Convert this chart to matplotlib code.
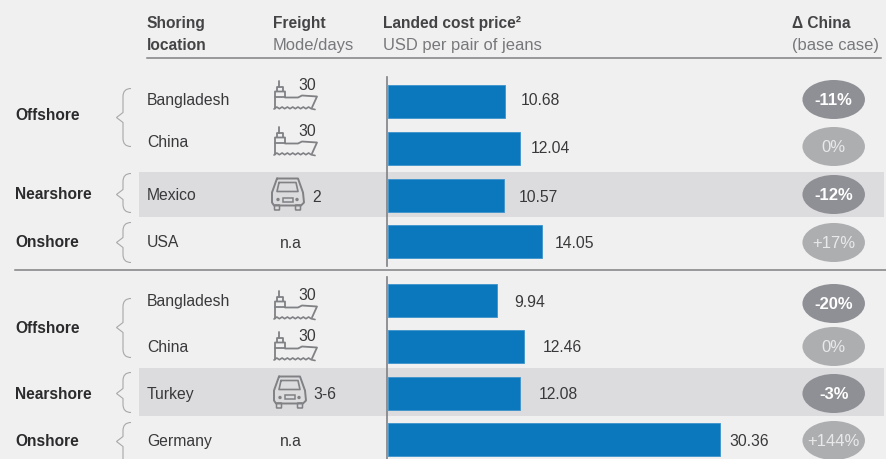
import matplotlib
matplotlib.use("Agg")
import matplotlib.pyplot as plt
from matplotlib.patches import Ellipse, PathPatch, Rectangle, FancyBboxPatch
from matplotlib.path import Path

plt.rcParams['font.family'] = ['Liberation Sans', 'DejaVu Sans']

# values
locations = ["Bangladesh", "China", "Mexico", "USA", "Bangladesh", "China", "Turkey", "Germany"]
cost = [10.68, 12.04, 10.57, 14.05, 9.94, 12.46, 12.08, 30.36]
delta = ["-11%", "0%", "-12%", "+17%", "-20%", "0%", "-3%", "+144%"]
delta_dark = [True, False, True, False, True, False, True, False]
freight_mode = ["ship", "ship", "truck", None, "ship", "ship", "truck", None]
freight_days = ["30", "30", "2", "n.a", "30", "30", "3-6", "n.a"]
groups = ["Offshore", "Nearshore", "Onshore", "Offshore", "Nearshore", "Onshore"]

# layout, in pixels of the 886x460 picture
bar_top = [85, 132, 179, 226, 285, 331, 378, 424]
loc_y = [100, 142, 195, 242, 301, 347, 394, 441]
val_x = [521, 531, 519, 555, 514, 543, 539, 729]
val_y = [100, 148, 197, 243, 302, 347, 394, 441]
pill_y = [100, 147, 195, 243, 304, 347, 394, 441]
icon_y = [82, 128, 179, 0, 292, 333, 377, 0]
icon_x = [274, 274, 272, 0, 274, 274, 274, 0]
days_x = [298, 298, 312, 280, 298, 298, 313, 280]
days_y = [85, 131, 197, 243, 295, 336, 394, 441]
group_y = [115, 194, 242, 328, 394, 441]
brace_spans = [(89, 118, 147), (174, 195, 213), (223, 243, 263),
               (299, 328, 358), (373, 394, 413), (423, 442, 470)]

BG = "#f0f0f1"
BAND = "#dcdcde"
BLUE = "#0b77bd"
DARK = "#39393b"
GREY = "#77787b"
LINE = "#808184"
ICON = "#808184"

fig = plt.figure(figsize=(8.86, 4.6), dpi=100, facecolor=BG)
ax = fig.add_axes([0, 0, 1, 1])
ax.set_xlim(0, 886)
ax.set_ylim(459.5, -0.5)
ax.axis("off")


def icon_line(x, y, pts, lw=1.3):
    xs, ys = zip(*[(x + a, y + b) for a, b in pts])
    ax.plot(xs, ys, color=ICON, lw=lw, solid_joinstyle="round", solid_capstyle="round", zorder=3)


def draw_ship(x, y):
    icon_line(x, y, [(5, 0), (5, 6)])
    icon_line(x, y, [(3, 10), (3, 6), (9, 6), (9, 10)])
    icon_line(x, y, [(1, 27), (1, 10), (11, 10), (11, 16), (24, 16), (28, 14), (43, 15), (38, 26)])
    icon_line(x, y, [(1, 16), (11, 16)])
    # waves
    wave = [(0, 27.5)]
    for i in range(7):
        wave += [(2.8 + i * 5.3, 25.5), (5.4 + i * 5.3, 27.2)]
    wave += [(41, 28)]
    icon_line(x, y, wave, lw=1.2)


def draw_truck(x, y):
    icon_line(x, y, [(5, 0), (26, 0), (31, 14), (32, 24), (29, 27), (2, 27), (0, 24), (0, 14), (5, 0)], lw=1.4)
    # windscreen
    icon_line(x, y, [(7, 4), (24, 4), (26, 13), (5, 13), (7, 4)], lw=1.2)
    # plate, lights, wheels
    ax.add_patch(Rectangle((x + 11, y + 19), 10, 4, fill=False, ec=ICON, lw=1.1, zorder=3))
    ax.add_patch(Ellipse((x + 6, y + 21), 3.4, 3.4, fc=ICON, ec="none", zorder=3))
    ax.add_patch(Ellipse((x + 25, y + 21), 3.4, 3.4, fc=ICON, ec="none", zorder=3))
    ax.add_patch(FancyBboxPatch((x + 3, y + 27), 4, 4, boxstyle="round,pad=0.5", fill=False, ec=ICON, lw=1.1, zorder=3))
    ax.add_patch(FancyBboxPatch((x + 24, y + 27), 4, 4, boxstyle="round,pad=0.5", fill=False, ec=ICON, lw=1.1, zorder=3))


def draw_brace(top, tip, bottom):
    xe, xs, xt = 131, 123, 116.5
    verts = [(xe, top), (xs, top), (xs, top + 8), (xs, tip - 5), (xs, tip - 5), (xt, tip),
             (xs, tip + 5), (xs, tip + 5), (xs, bottom - 8), (xs, bottom), (xe, bottom)]
    codes = [Path.MOVETO, Path.CURVE3, Path.CURVE3, Path.LINETO, Path.LINETO, Path.LINETO,
             Path.LINETO, Path.LINETO, Path.LINETO, Path.CURVE3, Path.CURVE3]
    ax.add_patch(PathPatch(Path(verts, codes), fill=False, ec="#a7a8aa", lw=0.8, zorder=3))


# shaded rows
ax.add_patch(Rectangle((139, 172), 745, 45, fc=BAND, ec="none", zorder=0))
ax.add_patch(Rectangle((139, 369), 745, 48, fc=BAND, ec="none", zorder=0))

# rules
ax.plot([147, 881], [59, 59], color=LINE, lw=1.1, zorder=1)
ax.plot([15, 886], [271, 271], color=LINE, lw=1.1, zorder=1)
ax.plot([387.5, 387.5], [78, 267], color=LINE, lw=1.2, zorder=4)
ax.plot([387.5, 387.5], [278, 460], color=LINE, lw=1.2, zorder=4)

# header
FS = 11.3
FS_BOLD = 11.2
FS_SUB = 11.9
for x, y, s in [(147, 23, "Shoring"), (147, 45, "location"), (273, 23, "Freight"),
                (383, 23, "Landed cost price²"), (792, 23, "Δ China")]:
    ax.text(x, y + 0.5, s, fontsize=FS_BOLD, fontweight="bold", color="#444446", va="center", ha="left")
for x, s in [(273, "Mode/days"), (383, "USD per pair of jeans"), (792, "(base case)")]:
    ax.text(x, 45.5, s, fontsize=FS_SUB, color=GREY, va="center", ha="left")

# row labels, freight, pills
for i, name in enumerate(locations):
    ax.text(147, loc_y[i] + 0.5, name, fontsize=FS, color=DARK, va="center", ha="left")
    if freight_mode[i] == "ship":
        draw_ship(icon_x[i], icon_y[i])
    elif freight_mode[i] == "truck":
        draw_truck(icon_x[i], icon_y[i])
    ax.text(days_x[i], days_y[i] + 0.5, freight_days[i], fontsize=FS, color=DARK, va="center", ha="left")
    ax.text(val_x[i], val_y[i] + 0.5, f"{cost[i]:.2f}", fontsize=FS, color=DARK, va="center", ha="left")
    fc = "#8f9095" if delta_dark[i] else "#adaeb0"
    ax.add_patch(Ellipse((833.7, pill_y[i]), 62.5, 39, fc=fc, ec="none", zorder=2))
    ax.text(833.7, pill_y[i] + 0.5, delta[i], fontsize=12, color="white" if delta_dark[i] else "#e9e9ea",
            fontweight="bold" if delta_dark[i] else "normal", va="center", ha="center", zorder=3)

for name, y, span in zip(groups, group_y, brace_spans):
    ax.text(15, y + 0.5, name, fontsize=FS_BOLD, fontweight="bold", color="#2b2b2d", va="center", ha="left")
    draw_brace(*span)

# bars, x axis in USD (about 10.93 px per USD)
bar_ax = fig.add_axes([388 / 886, 0, 498 / 886, 1])
bar_ax.set_xlim(0, 498 / 10.93)
bar_ax.set_ylim(459.5, -0.5)
bar_ax.axis("off")
bar_ax.patch.set_alpha(0)
bar_ax.barh([t + 16.5 for t in bar_top], cost, height=33, color=BLUE, edgecolor="#3d93cb", linewidth=0.6)

fig.savefig("out.png", dpi=100, facecolor=BG)
